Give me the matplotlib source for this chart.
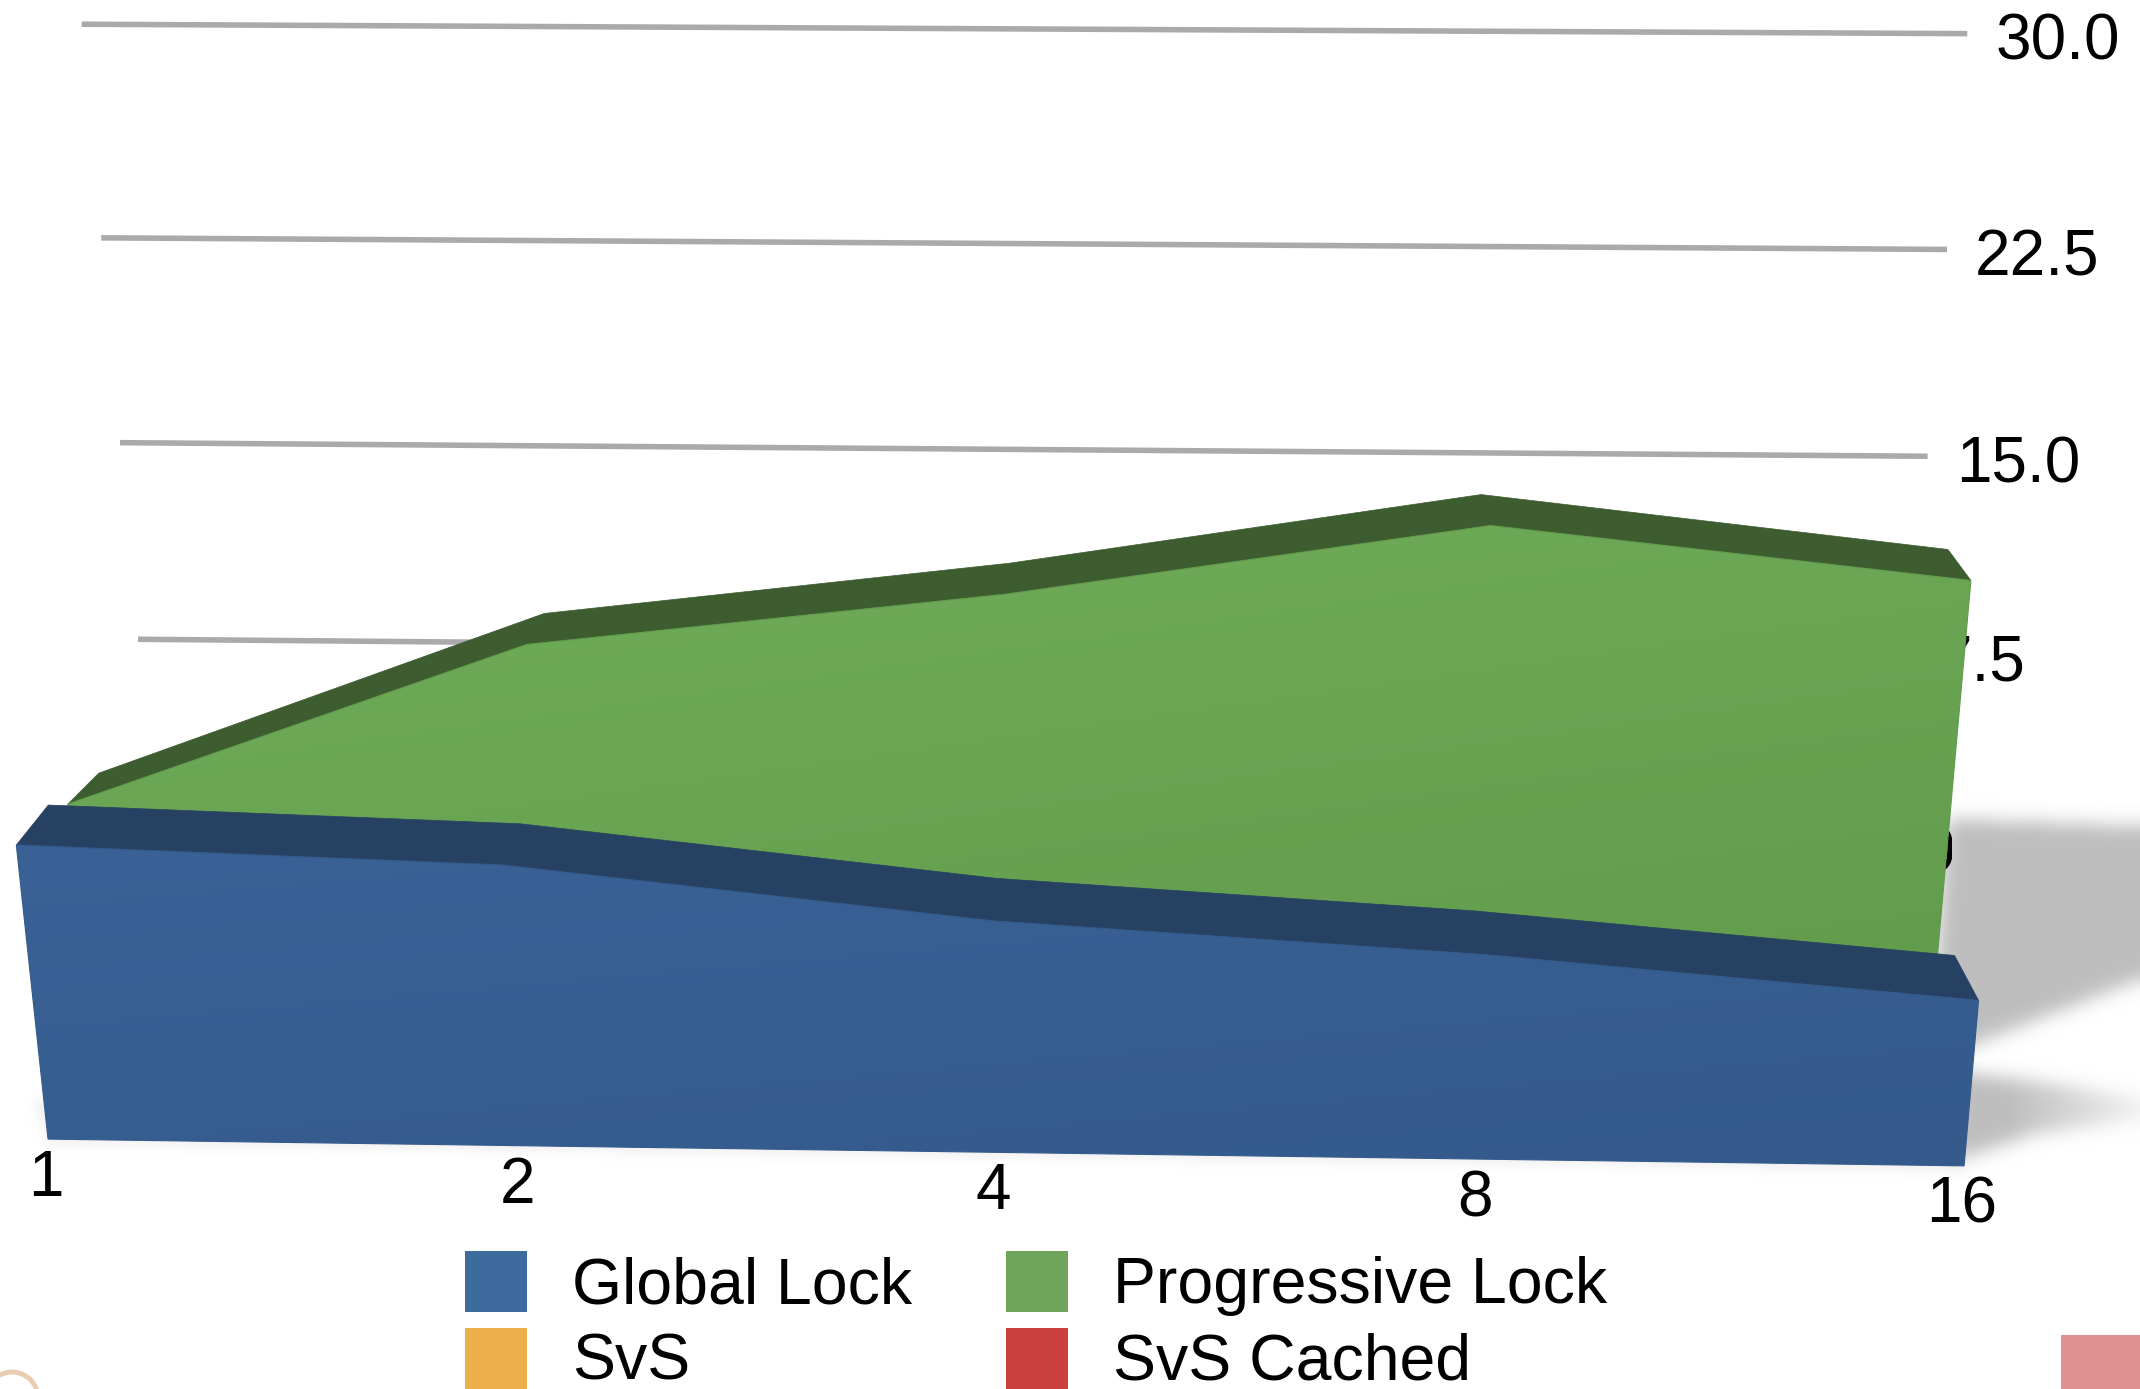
import numpy as np
import matplotlib
matplotlib.use('Agg')
from matplotlib import pyplot as plt
from matplotlib.colors import to_rgb
from matplotlib.patches import Arc, Polygon, Rectangle
from matplotlib.path import Path

# chart data
threads = ['1', '2', '4', '8', '16']
y_ticks = [0.0, 7.5, 15.0, 22.5, 30.0]
global_lock = [10.2, 9.7, 8.0, 7.05, 5.7]
progressive_lock = [7.1, 13.0, 15.0, 17.6, 16.0]
legend_names = ['Global Lock', 'Progressive Lock', 'SvS', 'SvS Cached']
legend_colors = ['#3d6b9e', '#6fa55b', '#ecaf4c', '#c9403c']

W, H = 2140, 1389
cat = list(range(len(threads)))


def fit_plane(world, pixel):
    """Least squares homography, (category, value) to canvas pixels"""
    rows = []
    for (a, b), (u, v) in zip(world, pixel):
        rows.append([a, b, 1, 0, 0, 0, -u * a, -u * b, -u])
        rows.append([0, 0, 0, a, b, 1, -v * a, -v * b, -v])
    return np.linalg.svd(np.array(rows, dtype=float))[2][-1].reshape(3, 3)


def project(plane, x, v):
    x, v = np.broadcast_arrays(np.asarray(x, float), np.asarray(v, float))
    p = plane @ np.stack([x, v, np.ones_like(x)])
    return p[0] / p[2], p[1] / p[2]


# perspective of the back wall
wall = fit_plane([(0, 30), (4, 30), (0, 22.5), (4, 22.5), (0, 15), (4, 15), (0, 7.5), (4, 7.5)],
                 [(82, 24), (1967, 33), (101, 238), (1947, 250),
                  (120, 443), (1928, 457), (138, 639), (1909, 654)])

# front plane of each slice, from its floor corners and its top edge
global_plane = fit_plane([(0, 0), (4, 0)] + list(zip(cat, global_lock)),
                         [(48, 1139), (1964, 1166), (16, 845), (502, 865), (996, 921), (1481, 955), (1980, 1000)])
progressive_plane = fit_plane([(0, 0), (4, 0)] + list(zip(cat, progressive_lock)),
                              [(96, 999), (1931, 1022), (67, 802), (528, 644), (1006, 592), (1488, 530), (1973, 579)])

# how far the rear edge of a slice sits from its front edge, at first and last category
global_rear = ((32, -40), (-24, -45))
progressive_rear = ((31, -31), (-23, -31))


def gradient_face(ax, xs, ys, c0, c1, zorder):
    """Fill a polygon with a diagonal two colour gradient"""
    x0, x1, y0, y1 = min(xs), max(xs), min(ys), max(ys)
    gx, gy = np.meshgrid(np.linspace(0, 1, 120), np.linspace(0, 1, 120))
    t = (0.35 * gx + 0.65 * gy)[..., None]
    img = (1 - t) * np.array(to_rgb(c0)) + t * np.array(to_rgb(c1))
    im = ax.imshow(img, extent=(x0, x1, y1, y0), aspect='auto', zorder=zorder, interpolation='bilinear')
    outline = Polygon(np.c_[xs, ys], closed=True, fc='none', ec=c1, lw=0.8, zorder=zorder + 0.1)
    ax.add_patch(outline)
    im.set_clip_path(outline)


def solid_area(ax, plane, values, rear, top_color, c0, c1, zorder):
    idx = np.arange(len(values))
    fx, fy = project(plane, idx, values)
    gx, gy = project(plane, idx, 0)
    t = idx / idx[-1]
    bx = fx + (1 - t) * rear[0][0] + t * rear[1][0]
    by = fy + (1 - t) * rear[0][1] + t * rear[1][1]
    ax.add_patch(Polygon(np.c_[np.r_[fx, bx[::-1]], np.r_[fy, by[::-1]]], closed=True,
                         fc=top_color, ec=top_color, lw=0.5, zorder=zorder))
    gradient_face(ax, np.r_[fx, gx[::-1]], np.r_[fy, gy[::-1]], c0, c1, zorder + 0.2)


def blur(a, sigma):
    r = int(3 * sigma)
    k = np.exp(-0.5 * (np.arange(-r, r + 1) / sigma) ** 2)
    k = k / k.sum()
    a = np.pad(a, r, mode='edge')
    a = np.apply_along_axis(lambda m: np.convolve(m, k, mode='same'), 0, a)
    a = np.apply_along_axis(lambda m: np.convolve(m, k, mode='same'), 1, a)
    return a[r:-r, r:-r]


def soft_shadow(ax, layers, zorder, color='#bebebe'):
    """layers: (polygon, sigma, strength). Worked out at half size, that is enough for a blur"""
    sx, sy = np.meshgrid(np.arange(0, W, 2) + 1, np.arange(0, H, 2) + 1)
    pts = np.c_[sx.ravel(), sy.ravel()]
    alpha = np.zeros(sx.shape)
    for poly, sigma, strength in layers:
        mask = Path(poly).contains_points(pts).reshape(sx.shape).astype(float)
        alpha = np.maximum(alpha, blur(mask, sigma / 2) * strength(sx))
    rgba = np.zeros(alpha.shape + (4,))
    rgba[..., :3] = to_rgb(color)
    rgba[..., 3] = np.clip(alpha, 0, 1)
    ax.imshow(rgba, extent=(0, W, H, 0), aspect='auto', zorder=zorder, interpolation='bilinear')


plt.rcParams['font.family'] = ['Liberation Sans', 'DejaVu Sans']
fig = plt.figure(figsize=(W / 100, H / 100), dpi=100)
ax = fig.add_axes([0, 0, 1, 1])

# back wall grid and value labels
for tick in y_ticks:
    gx, gy = project(wall, [0, 4], tick)
    ax.plot(gx, gy, color='#aaaaaa', lw=4, solid_capstyle='butt', zorder=1)
    label = ax.text(gx[1] + 28, gy[1] + 9, f'{tick:.1f}', fontsize=46, ha='left', va='center',
                    color='black', zorder=4)
    if tick == 0:
        # the floor shadow swallows everything right of the first sliver
        label.set_clip_on(True)
        label.set_clip_path(Rectangle((0, 0), 1952, H, transform=ax.transData))

# blurred floor shadow on the right hand side
upper = [(1946, 819), (2200, 829), (2200, 960), (2140, 980), (1977, 1044), (1930, 1060)]
lower = [(1950, 1072), (2067, 1086), (2200, 1110), (2200, 1112), (2033, 1135), (1967, 1157), (1950, 1157)]
soft_shadow(ax, [
    (upper, 9, lambda x: np.ones_like(x, dtype=float)),
    (lower, 9, lambda x: np.clip(1 - (x - 2010) / 170, 0.15, 1)),
], 3)

solid_area(ax, progressive_plane, progressive_lock, progressive_rear, '#3d5c30', '#70ae59', '#619a4c', 5)

# soft contact shadow under the front face
bx, by = project(global_plane, [0, 4], 0)
soft_shadow(ax, [([(bx[0] - 12, by[0] - 40), (bx[1], by[1] - 10), (bx[1], by[1] + 4), (bx[0], by[0] + 4)],
                  6, lambda x: np.full_like(x, 0.3, dtype=float))], 5.8, color='#c4c4c4')

solid_area(ax, global_plane, global_lock, global_rear, '#274163', '#3a6296', '#345a8c', 6)

# category labels below the front edge
tx, ty = project(global_plane, cat, 0)
for name, px, py in zip(threads, tx, ty):
    ax.text(px - 2, py + 40, name, fontsize=46, ha='center', va='center', color='black', zorder=8)

# legend, laid out by hand in two columns
for i, (name, color) in enumerate(zip(legend_names, legend_colors)):
    col, row = i % 2, i // 2
    sw_x = 465 + col * 541
    sw_y = 1251 + row * 77
    ax.add_patch(Rectangle((sw_x, sw_y), 62, 61, fc=color, ec='none', zorder=8))
    ax.text(sw_x + 107, sw_y + 52, name, fontsize=46.4, ha='left', va='baseline', color='black', zorder=8)

# bits of the neighbouring slide artwork cut off by the crop
ax.add_patch(Rectangle((2061, 1335), 90, 60, fc='#e09090', ec='none', zorder=8))
ax.add_patch(Arc((12, 1398), 52, 52, theta1=180, theta2=360, color='#e8cdb0', lw=3.5, zorder=8))

ax.set_xlim(0, W)
ax.set_ylim(H, 0)
ax.axis('off')

fig.savefig('out.png', dpi=100)
